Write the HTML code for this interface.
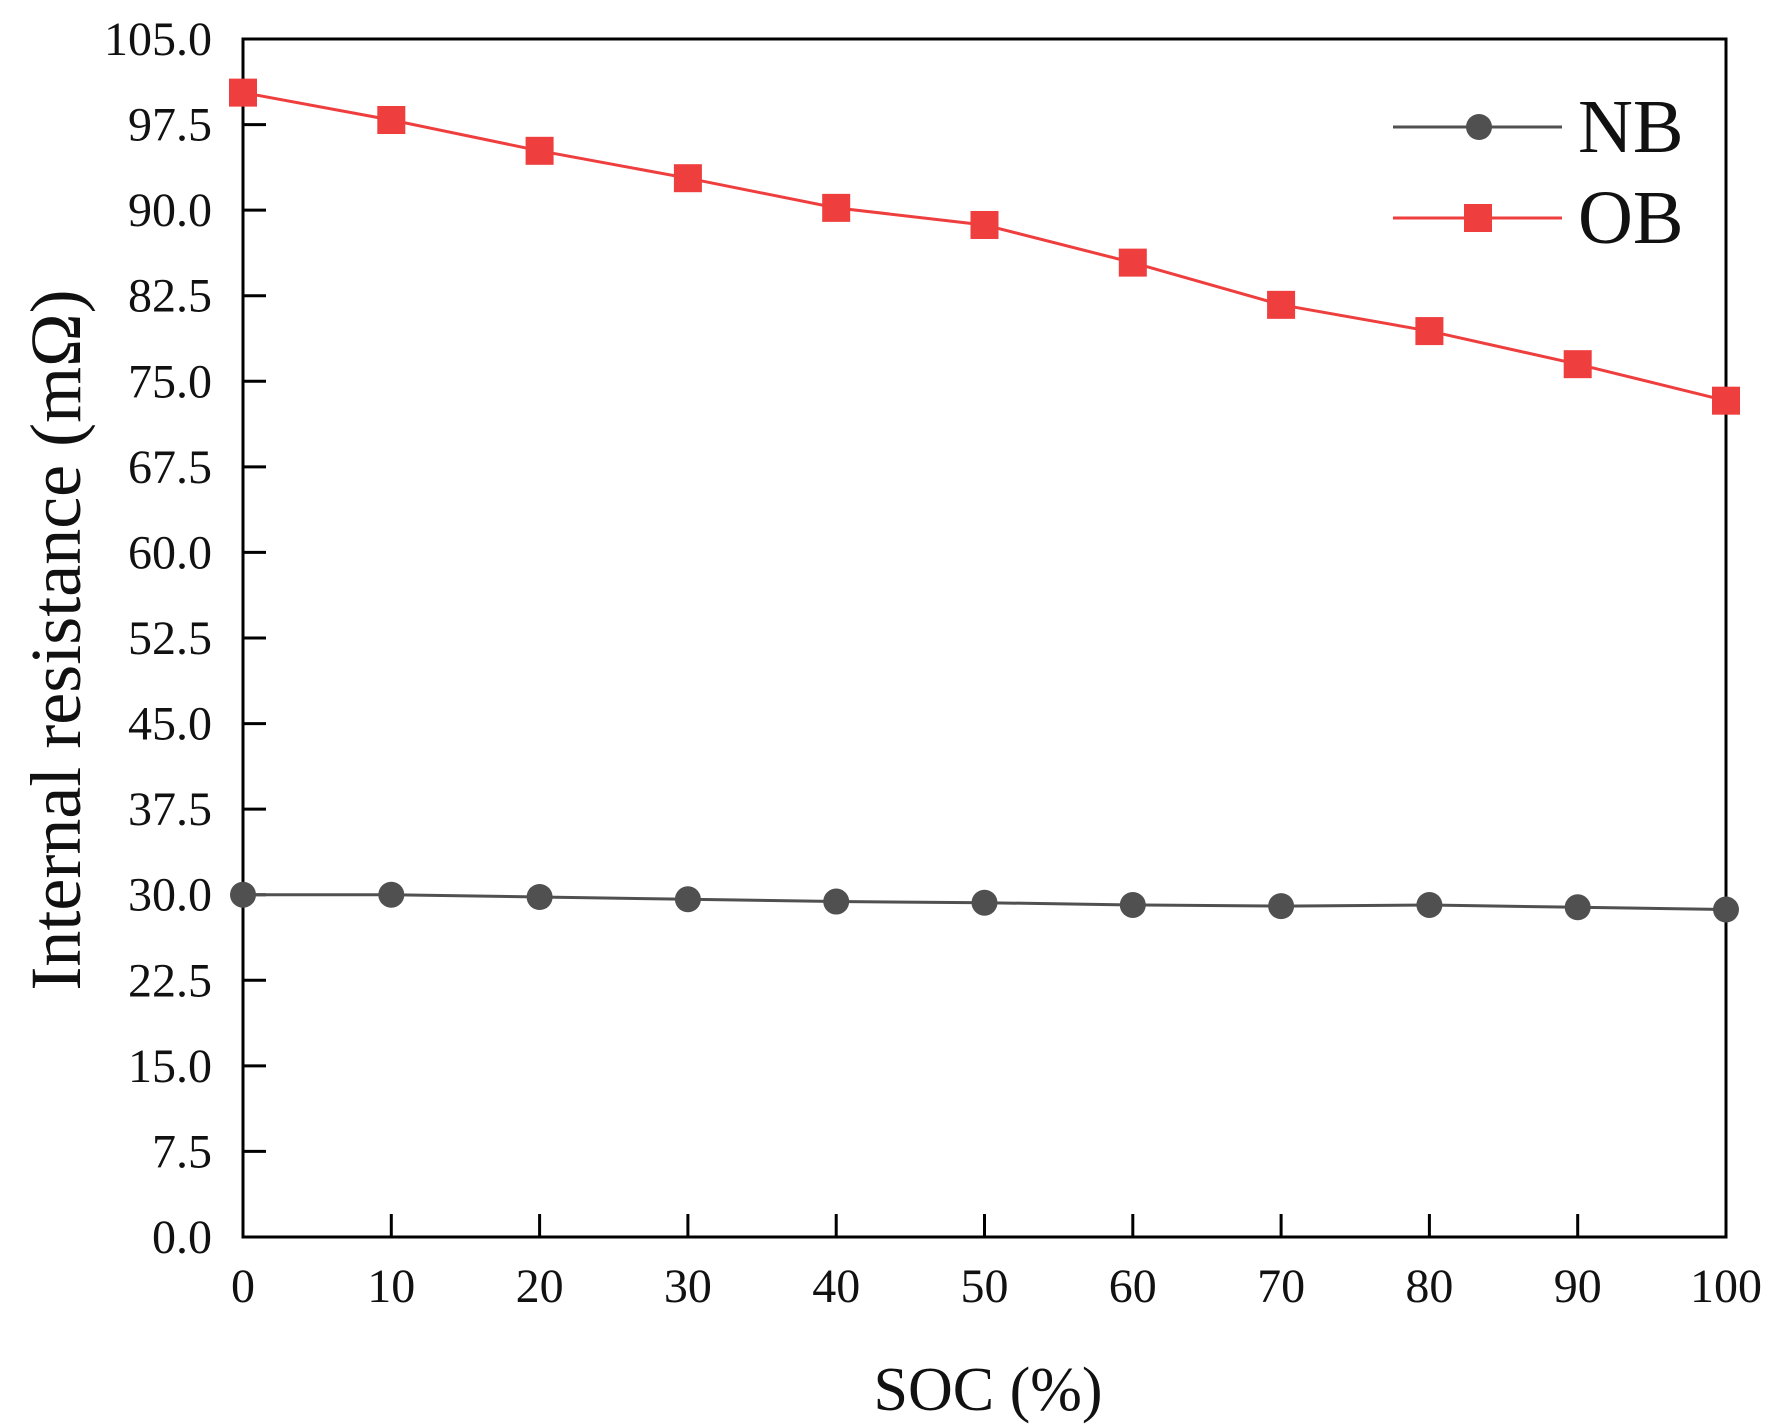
<!DOCTYPE html>
<html><head><meta charset="utf-8"><style>
html,body{margin:0;padding:0;background:#fff;}
svg{display:block;}
text{font-family:"Liberation Serif",serif;fill:#111;}
</style></head><body>
<svg id="chart" width="1779" height="1426" viewBox="0 0 1779 1426" xmlns="http://www.w3.org/2000/svg">
<g id="axes"></g>
<g id="series"></g>
<g id="legend">
  <line x1="1393" y1="127" x2="1562" y2="127" stroke="#505050" stroke-width="3"/>
  <circle cx="1479" cy="127" r="13" fill="#505050"/>
  <text x="1578" y="152" font-size="76">NB</text>
  <line x1="1393" y1="218" x2="1562" y2="218" stroke="#ee3e3e" stroke-width="3"/>
  <rect x="1464" y="204" width="28" height="28" fill="#ee3e3e"/>
  <text x="1578" y="243" font-size="76">OB</text>
</g>
<text x="988" y="1410" font-size="62" text-anchor="middle">SOC (%)</text>
<text x="0" y="0" font-size="72" text-anchor="middle" transform="translate(80,640) rotate(-90)">Internal resistance (mΩ)</text>
</svg>
<script>
const categories = [0,10,20,30,40,50,60,70,80,90,100];
const nbValues = [30.0,30.0,29.8,29.6,29.4,29.3,29.1,29.0,29.1,28.9,28.7];
const obValues = [100.3,97.9,95.2,92.8,90.2,88.7,85.4,81.7,79.4,76.5,73.3];
const xTicks = [0,10,20,30,40,50,60,70,80,90,100];
const yTicks = ["0.0","7.5","15.0","22.5","30.0","37.5","45.0","52.5","60.0","67.5","75.0","82.5","90.0","97.5","105.0"];

const L=243,R=1726,T=39,B=1237;
const xMin=0,xMax=100,yMin=0,yMax=105;
const sx=v=>L+(v-xMin)/(xMax-xMin)*(R-L);
const sy=v=>B-(v-yMin)/(yMax-yMin)*(B-T);
const NS="http://www.w3.org/2000/svg";
function mk(tag,attrs,parent){const e=document.createElementNS(NS,tag);for(const k in attrs)e.setAttribute(k,attrs[k]);parent.appendChild(e);return e;}
const axes=document.getElementById('axes');
const frame=mk('rect',{x:L,y:T,width:R-L,height:B-T,fill:'none',stroke:'#000','stroke-width':3},axes);


xTicks.forEach(v=>{
  const t=mk('line',{x1:sx(v),x2:sx(v),y1:B,y2:B-23,stroke:'#000','stroke-width':3},axes);
  
  
  const lb=mk('text',{x:sx(v),y:1302,'font-size':48,'text-anchor':'middle'},axes);
  lb.textContent=v;
  
  
});
yTicks.forEach(s=>{
  const v=parseFloat(s);
  const t=mk('line',{x1:L,x2:L+23,y1:sy(v),y2:sy(v),stroke:'#000','stroke-width':3},axes);
  
  
  const lb=mk('text',{x:212,y:sy(v)+16,'font-size':48,'text-anchor':'end'},axes);
  lb.textContent=s;
  
  
});
const series=document.getElementById('series');
function drawLine(vals,color,name){
  const p=mk('polyline',{points:vals.map((v,i)=>sx(categories[i])+','+sy(v)).join(' '),fill:'none',stroke:color,'stroke-width':3},series);
  
  
}
drawLine(nbValues,'#505050','nb');
drawLine(obValues,'#ee3e3e','ob');
nbValues.forEach((v,i)=>{
  const c=mk('circle',{cx:sx(categories[i]),cy:sy(v),r:13,fill:'#505050'},series);
  
  
});
obValues.forEach((v,i)=>{
  const r=mk('rect',{x:sx(categories[i])-14,y:sy(v)-14,width:28,height:28,fill:'#ee3e3e'},series);
  
  
});
</script>
</body></html>
